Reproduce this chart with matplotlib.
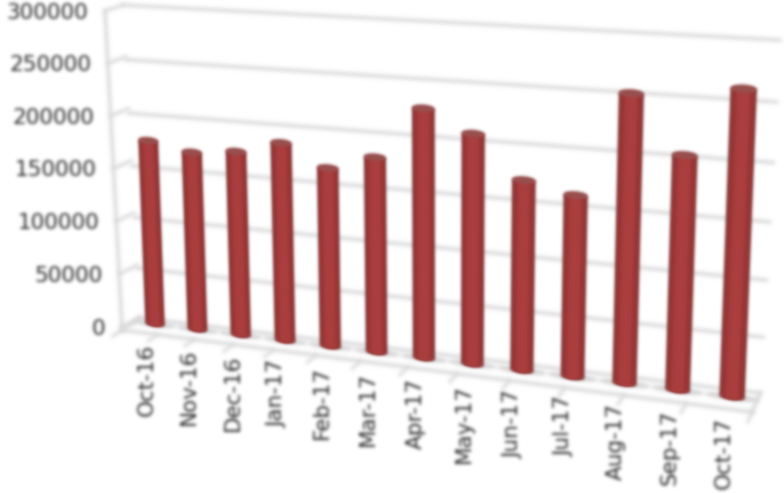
#3D style bar chart, months Oct-16 to Oct-17

import matplotlib
matplotlib.use('Agg')
import matplotlib.pyplot as plt
import numpy as np
from matplotlib.patches import Ellipse
from matplotlib.transforms import Transform

months = ['Oct-16', 'Nov-16', 'Dec-16', 'Jan-17', 'Feb-17', 'Mar-17', 'Apr-17',
          'May-17', 'Jun-17', 'Jul-17', 'Aug-17', 'Sep-17', 'Oct-17']
values = [173000, 165500, 169500, 180500, 161500, 174300, 219500,
          201000, 165000, 156000, 243000, 196000, 252000]
y_ticks = [0, 50000, 100000, 150000, 200000, 250000, 300000]

plt.rcParams['font.family'] = ['DejaVu Sans']


class Perspective(Transform):
    #maps a data rectangle on to four picture corners
    input_dims = 2
    output_dims = 2
    is_separable = False

    def __init__(self, x0, x1, y0, y1, corners):
        super().__init__()
        src = [(x0, y0), (x1, y0), (x0, y1), (x1, y1)]
        # rescale the inputs so the solve stays well behaved
        sx, sy = max(abs(x0), abs(x1)), max(abs(y0), abs(y1))
        self.scale = np.array([sx, sy])
        a = []
        b = []
        for (u, v), (px, py) in zip(src, corners):
            u, v = u / sx, v / sy
            a.append([u, v, 1, 0, 0, 0, -u * px, -v * px])
            a.append([0, 0, 0, u, v, 1, -u * py, -v * py])
            b += [px, py]
        self.h = np.append(np.linalg.solve(np.array(a), np.array(b, float)), 1).reshape(3, 3)

    def transform_non_affine(self, values):
        pts = np.asarray(values, float) / self.scale
        full = np.column_stack([pts, np.ones(len(pts))]) @ self.h.T
        return full[:, :2] / full[:, 2:]


def gauss(arr, sigma):
    radius = int(sigma * 3)
    k = np.exp(-0.5 * (np.arange(-radius, radius + 1) / sigma) ** 2)
    k = k / k.sum()
    for axis in (0, 1):
        total = np.zeros_like(arr)
        for off, w in zip(range(-radius, radius + 1), k):
            total += w * np.roll(arr, off, axis=axis)
        arr = total
    return arr


def make_blur(sigma):
    def blur(img, dpi):
        pad = int(sigma * 3) + 2
        img = np.pad(img, ((pad, pad), (pad, pad), (0, 0)))
        alpha = img[:, :, 3:]
        rgb = gauss(img[:, :, :3] * alpha, sigma)
        alpha = gauss(alpha, sigma)
        out = np.dstack([rgb / np.maximum(alpha, 1e-4), alpha])
        return np.clip(out, 0, 1), -pad, -pad
    return blur


soft = make_blur(1.5)
grid_soft = make_blur(2.0)
text_soft = make_blur(1.2)

fig = plt.figure(figsize=(7.84, 4.93), dpi=100)
ax = fig.add_axes([0, 0, 1, 1])
ax.set_xlim(0, 784)
ax.set_ylim(493, 0)
ax.set_autoscale_on(False)
ax.axis('off')

#planes of the 3D box, corners read in picture pixels
bar_plane = Perspective(0, 12, 0, 300000, [(155, 324), (732, 397), (143, 0), (746, 27)]) + ax.transData
wall = Perspective(-0.5, 12.5, 0, 300000, [(140, 318), (760, 393), (123, 5), (780, 40)]) + ax.transData
side = Perspective(0, 1, 0, 300000, [(122, 327), (140, 318), (105, 11), (123, 5)]) + ax.transData
floor = Perspective(-0.5, 12.5, 0, 1, [(122, 330), (752, 412), (140, 318), (760, 393)]) + ax.transData

grid_color = '#dadada'

#gridlines on the back wall and the left side
for tick in y_ticks:
    line, = ax.plot([-0.5, 12.5], [tick, tick], color=grid_color, lw=2.6, transform=wall, zorder=1)
    line.set_agg_filter(grid_soft)
    line, = ax.plot([0, 1], [tick, tick], color=grid_color, lw=2.4, transform=side, zorder=1)
    line.set_agg_filter(grid_soft)
line, = ax.plot([0, 0], [0, 300000], color=grid_color, lw=2.6, transform=side, zorder=1)
line.set_agg_filter(grid_soft)

#floor outline and category ticks
for xs, ys in [([-0.5, 12.5], [0, 0]), ([12.5, 12.5], [0, 1]), ([-0.5, -0.5], [0, 1])]:
    line, = ax.plot(xs, ys, color=grid_color, lw=2.6, transform=floor, zorder=1)
    line.set_agg_filter(grid_soft)
for i in range(14):
    line, = ax.plot([i - 0.5, i - 0.5], [0, -0.5], color=grid_color, lw=2.2, transform=floor, zorder=1)
    line.set_agg_filter(grid_soft)

#grey shadow on the floor under each bar
for i in range(len(months)):
    shadow = Ellipse((i, 0), 1.0, 6000, facecolor='#d4d4d4', transform=bar_plane, zorder=2)
    ax.add_patch(shadow)
    shadow.set_agg_filter(grid_soft)

#cylinders: dark outer bar with lighter narrower bars inside, blur makes it round
x = np.arange(len(months))
layers = [(0.46, '#8a3a3a'), (0.37, '#9c3636'), (0.22, '#ab3f3f')]
for n, (width, color) in enumerate(layers):
    bars = ax.bar(x, values, width=width, color=color, transform=bar_plane, zorder=3 + n)
    for b in bars:
        b.set_agg_filter(soft)
    for i, v in enumerate(values):
        foot = Ellipse((i, 0), width, 4000, facecolor=color, transform=bar_plane, zorder=3 + n)
        ax.add_patch(foot)
        foot.set_agg_filter(soft)

#top caps
for i, v in enumerate(values):
    cap = Ellipse((i, v), 0.46, 6500, facecolor='#98504f', transform=bar_plane, zorder=7)
    ax.add_patch(cap)
    cap.set_agg_filter(soft)

#axis labels
for tick in y_ticks:
    t = ax.annotate(str(tick), xy=(0, tick), xycoords=side, xytext=(-12, -1.5), textcoords='offset points',
                    ha='right', va='center', fontsize=15.5, color='#262626', zorder=8)
    t.set_agg_filter(text_soft)
for i, month in enumerate(months):
    t = ax.annotate(month, xy=(i, 0), xycoords=bar_plane, xytext=(-6, -14), textcoords='offset points',
                    ha='center', va='top', rotation=90, fontsize=15.5, color='#262626', zorder=8)
    t.set_agg_filter(text_soft)

fig.savefig('out.png', dpi=100)
